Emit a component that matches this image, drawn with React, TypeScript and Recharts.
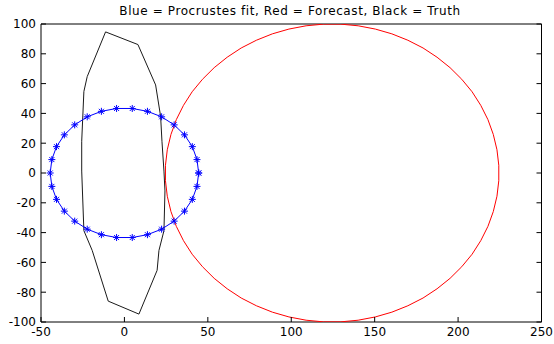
import React from 'react';
import { ScatterChart, Scatter, XAxis, YAxis } from 'recharts';

const title = 'Blue = Procrustes fit, Red = Forecast, Black = Truth';
const xTicks = [-50, 0, 50, 100, 150, 200, 250];
const yTicks = [-100, -80, -60, -40, -20, 0, 20, 40, 60, 80, 100];

// Blue = Procrustes fit (30 points, closed)
const fitX = [44.5, 43.5, 40.7, 36.0, 29.8, 22.3, 13.8, 4.7, -4.7, -13.8, -22.3, -29.8, -36.0, -40.7, -43.5,
  -44.5, -43.5, -40.7, -36.0, -29.8, -22.3, -13.8, -4.7, 4.7, 13.8, 22.3, 29.8, 36.0, 40.7, 43.5, 44.5];
const fitY = [0, 9.0, 17.7, 25.6, 32.3, 37.7, 41.4, 43.3, 43.3, 41.4, 37.7, 32.3, 25.6, 17.7, 9.0,
  0, -9.0, -17.7, -25.6, -32.3, -37.7, -41.4, -43.3, -43.3, -41.4, -37.7, -32.3, -25.6, -17.7, -9.0, 0];

// Red = Forecast
const fcX = [224.4, 223.3, 221.1, 217.9, 213.6, 208.4, 202.2, 195.2, 187.4, 179.0, 169.9, 160.3, 150.4, 140.1, 129.7,
  119.3, 108.9, 98.6, 88.7, 79.1, 70.0, 61.6, 53.8, 46.8, 40.6, 35.4, 31.1, 27.9, 25.7, 24.6,
  24.6, 25.7, 27.9, 31.1, 35.4, 40.6, 46.8, 53.8, 61.6, 70.0, 79.1, 88.7, 98.6, 108.9, 119.3,
  129.7, 140.1, 150.4, 160.3, 169.9, 179.0, 187.4, 195.2, 202.2, 208.4, 213.6, 217.9, 221.1, 223.3, 224.4, 224.4];
const fcY = [5.2, 15.6, 25.9, 35.8, 45.4, 54.5, 62.9, 70.7, 77.7, 83.9, 89.1, 93.4, 96.6, 98.8, 99.9,
  99.9, 98.8, 96.6, 93.4, 89.1, 83.9, 77.7, 70.7, 62.9, 54.5, 45.4, 35.8, 25.9, 15.6, 5.2,
  -5.2, -15.6, -25.9, -35.8, -45.4, -54.5, -62.9, -70.7, -77.7, -83.9, -89.1, -93.4, -96.6, -98.8, -99.9,
  -99.9, -98.8, -96.6, -93.4, -89.1, -83.9, -77.7, -70.7, -62.9, -54.5, -45.4, -35.8, -25.9, -15.6, -5.2, 5.2];

// Black = Truth
const truthX = [-11.3, 8.1, 18.7, 21.7, 22.5, 23.7, 24.3, 23.7, 20.7, 19.6, 8.7, -9.7, -19.3, -24.3, -25.6, -25.6, -24.3, -22.3, -11.3];
const truthY = [94.7, 86.2, 59.1, 38.0, 21.3, 1.3, -12.0, -38.7, -52.0, -65.3, -94.7, -86.0, -52.0, -38.7, 1.3, 21.3, 54.7, 64.7, 94.7];

const zip = (xs: number[], ys: number[]) => xs.map((x, i) => ({ x, y: ys[i] }));
const fitData = zip(fitX, fitY);
const fcData = zip(fcX, fcY);
const truthData = zip(truthX, truthY);

const FONT = 'DejaVu Sans';

const BottomTick = (p: any) => (
  <g>
    <line x1={p.x} y1={p.y} x2={p.x} y2={p.y - 5} stroke="#000" />
    <text x={p.x} y={p.y + 14} textAnchor="middle" fontSize={12} fontFamily={FONT} fill="#000">{p.payload.value}</text>
  </g>
);
const LeftTick = (p: any) => (
  <g>
    <line x1={p.x} y1={p.y} x2={p.x + 5} y2={p.y} stroke="#000" />
    <text x={p.x - 5} y={p.y + 4.4} textAnchor="end" fontSize={12} fontFamily={FONT} fill="#000">{p.payload.value}</text>
  </g>
);
const TopTick = (p: any) => <line x1={p.x} y1={p.y} x2={p.x} y2={p.y + 5} stroke="#000" />;
const RightTick = (p: any) => <line x1={p.x} y1={p.y} x2={p.x - 5} y2={p.y} stroke="#000" />;

const NoDot = () => <g />;
const Star = (p: any) => {
  const { cx, cy } = p;
  if (cx == null || cy == null) return <g />;
  return (
    <g stroke="#0000ff" strokeWidth={1}>
      <line x1={cx - 3.5} y1={cy} x2={cx + 3.5} y2={cy} />
      <line x1={cx} y1={cy - 3.5} x2={cx} y2={cy + 3.5} />
      <line x1={cx - 2.5} y1={cy - 2.5} x2={cx + 2.5} y2={cy + 2.5} />
      <line x1={cx - 2.5} y1={cy + 2.5} x2={cx + 2.5} y2={cy - 2.5} />
    </g>
  );
};

export default function App() {
  return (
    <div style={{ position: 'absolute', left: 0, top: 0, width: 554, height: 344, background: '#fff' }}>
      <ScatterChart width={554} height={344} margin={{ top: 23, right: 11.5, bottom: 0, left: 0 }}>
        <XAxis xAxisId={0} type="number" dataKey="x" orientation="bottom" domain={[-50, 250]} ticks={xTicks}
          interval={0} allowDataOverflow height={22} tickSize={0} tickMargin={0} tickLine={false}
          axisLine={{ stroke: '#000' }} tick={<BottomTick />} />
        <XAxis xAxisId="top" type="number" orientation="top" domain={[-50, 250]} ticks={xTicks}
          interval={0} allowDataOverflow height={1} tickSize={0} tickMargin={0} tickLine={false}
          axisLine={{ stroke: '#000' }} tick={<TopTick />} />
        <YAxis yAxisId={0} type="number" dataKey="y" orientation="left" domain={[-100, 100]} ticks={yTicks}
          interval={0} allowDataOverflow width={41} tickSize={0} tickMargin={0} tickLine={false}
          axisLine={{ stroke: '#000' }} tick={<LeftTick />} />
        <YAxis yAxisId="right" type="number" orientation="right" domain={[-100, 100]} ticks={yTicks}
          interval={0} allowDataOverflow width={1} tickSize={0} tickMargin={0} tickLine={false}
          axisLine={{ stroke: '#000' }} tick={<RightTick />} />
        <Scatter data={fcData} line={{ stroke: '#ff0000', strokeWidth: 1 }} lineJointType="linear"
          shape={<NoDot />} isAnimationActive={false} />
        <Scatter data={truthData} line={{ stroke: '#1a1a1a', strokeWidth: 1 }} lineJointType="linear"
          shape={<NoDot />} isAnimationActive={false} />
        <Scatter data={fitData} line={{ stroke: '#0000ff', strokeWidth: 1 }} lineJointType="linear"
          shape={<Star />} isAnimationActive={false} />
      </ScatterChart>
      <svg style={{ position: 'absolute', left: 0, top: 0 }} width={554} height={22}>
        <text x={290} y={15} textAnchor="middle" fontFamily={FONT} fontSize={12} letterSpacing={0.6} fill="#000">{title}</text>
      </svg>
    </div>
  );
}
